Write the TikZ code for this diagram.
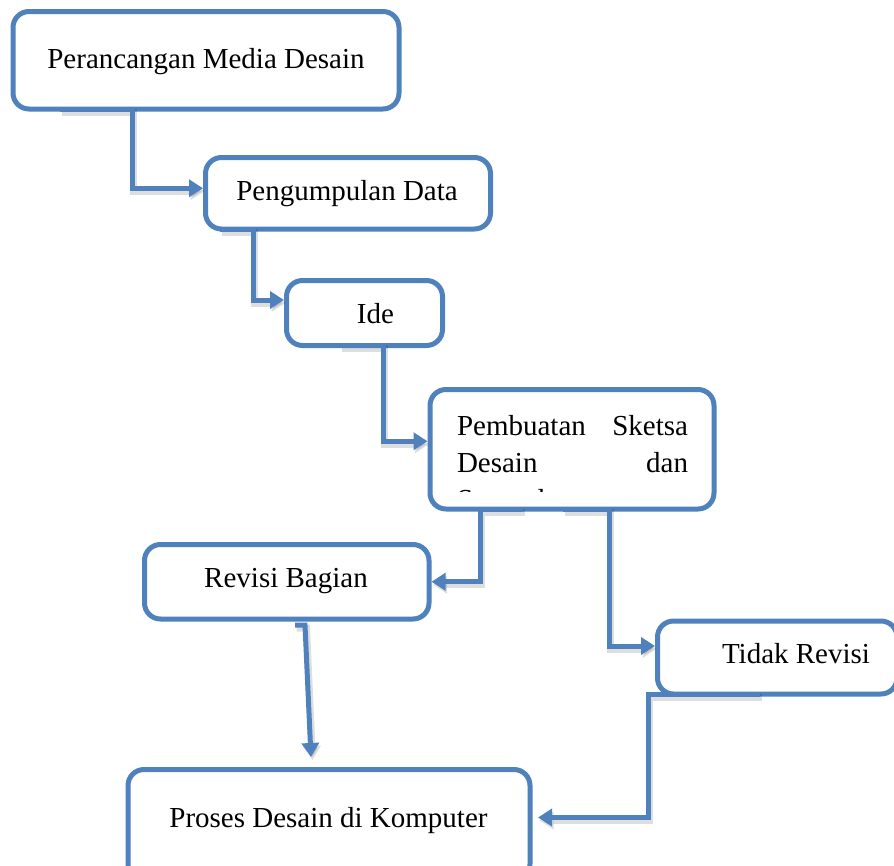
\documentclass[tikz,border=0pt]{standalone}
\usepackage{fontspec}
\setmainfont{Liberation Serif}
\usetikzlibrary{arrows.meta,calc}
\definecolor{wordblue}{RGB}{79,129,189}
\begin{document}
\begin{tikzpicture}[x=1pt,y=-1pt,
  box/.style={draw=wordblue, line width=5pt, rounded corners=16pt, fill=white, inner sep=0pt, outer sep=0pt},
  lbl/.style={inner sep=0pt, outer sep=0pt, font=\fontsize{29}{35}\selectfont},
  conn/.style={draw=wordblue, line width=5pt, line join=miter, -{Triangle[length=14pt,width=17pt]}},
  shade/.style={draw=black, line width=7pt, opacity=0.13, line join=miter, -{Triangle[length=14pt,width=17pt]}, transform canvas={shift={(1.5pt,-3pt)}}},
  ]
\useasboundingbox (0,0) rectangle (894,865);
\fill[white] (0,0) rectangle (894,865);

% boxes
\node[box, minimum width=386pt, minimum height=97.5pt] (b1) at (206,60.25) {};
\node[box, minimum width=285pt, minimum height=71.5pt] (b2) at (348,193.25) {};
\node[box, minimum width=156pt, minimum height=65pt] (b3) at (364.5,313) {};
\node[box, minimum width=284pt, minimum height=119.5pt] (b4) at (572,449.25) {};
\node[box, minimum width=284.5pt, minimum height=74.5pt] (b5) at (286.75,581.75) {};
\node[box, minimum width=239.5pt, minimum height=73pt] (b6) at (777.25,657.5) {};
\node[box, minimum width=402pt, minimum height=110.5pt] (b7) at (329,824.75) {};

% helper x positions
\coordinate (x60) at (60,0);
\coordinate (x132) at (132,0);
\coordinate (x220) at (220,0);
\coordinate (x253) at (253,0);
\coordinate (x340) at (340,0);
\coordinate (x383) at (383,0);
\coordinate (x523) at (523,0);
\coordinate (x480) at (480,0);
\coordinate (x563) at (563,0);
\coordinate (x609) at (609,0);
\coordinate (x760) at (760,0);
\coordinate (x648) at (648,0);
\coordinate (r0) at (295,625);
\coordinate (r1) at (305,625);
\coordinate (r2) at (311,757);

% shadows
\draw[shade] (b1.south -| x60) -- (b1.south -| x132) |- ([xshift=-2.5pt,yshift=5pt]b2.west);
\draw[shade] (b2.south -| x220) -- (b2.south -| x253) |- ([xshift=-2.5pt,yshift=13pt]b3.west);
\draw[shade] (b3.south -| x340) -- (b3.south -| x383) |- ([xshift=-2.5pt,yshift=8pt]b4.west);
\draw[shade] (b4.south -| x523) -- (b4.south -| x480) |- ([xshift=2.5pt]b5.east);
\draw[shade] (b4.south -| x563) -- (b4.south -| x609) |- ([xshift=-2.5pt,yshift=11.5pt]b6.west);
\draw[shade] (r0) -- (r1) -- (r2);
\draw[shade] (b6.south -| x760) -- (b6.south -| x648) |- ([xshift=8pt,yshift=7.25pt]b7.east);

% connectors
\draw[conn] (b1.south -| x60) -- (b1.south -| x132) |- ([xshift=-2.5pt,yshift=5pt]b2.west);
\draw[conn] (b2.south -| x220) -- (b2.south -| x253) |- ([xshift=-2.5pt,yshift=13pt]b3.west);
\draw[conn] (b3.south -| x340) -- (b3.south -| x383) |- ([xshift=-2.5pt,yshift=8pt]b4.west);
\draw[conn] (b4.south -| x523) -- (b4.south -| x480) |- ([xshift=2.5pt]b5.east);
\draw[conn] (b4.south -| x563) -- (b4.south -| x609) |- ([xshift=-2.5pt,yshift=11.5pt]b6.west);
\draw[conn] (r0) -- (r1) -- (r2);
\draw[conn] (b6.south -| x760) -- (b6.south -| x648) |- ([xshift=8pt,yshift=7.25pt]b7.east);

% texts
\node[lbl, anchor=base] (t1) at (206,68) {Perancangan Media Desain};
\node[lbl, anchor=base] (t2) at (347,200) {Pengumpulan Data};
\node[lbl, anchor=base] (t3) at (375.5,323) {Ide};
\node[lbl, anchor=base west] (t4a) at (457,435) {Pembuatan};
\node[lbl, anchor=base east] (t4b) at (688,435) {Sketsa};
\node[lbl, anchor=base west] (t4c) at (457,472) {Desain};
\node[lbl, anchor=base east] (t4d) at (688,472) {dan};
\begin{scope}
  \clip (433,392) rectangle (711,491.5);
  \node[lbl, anchor=base west] (t4e) at (457,509) {Sampul};
\end{scope}
\node[lbl, anchor=base] (t5) at (286,587) {Revisi Bagian};
\node[lbl, anchor=base] (t6) at (796,663) {Tidak Revisi};
\node[lbl, anchor=base] (t7) at (328.5,827) {Proses Desain di Komputer};
\end{tikzpicture}
\end{document}
